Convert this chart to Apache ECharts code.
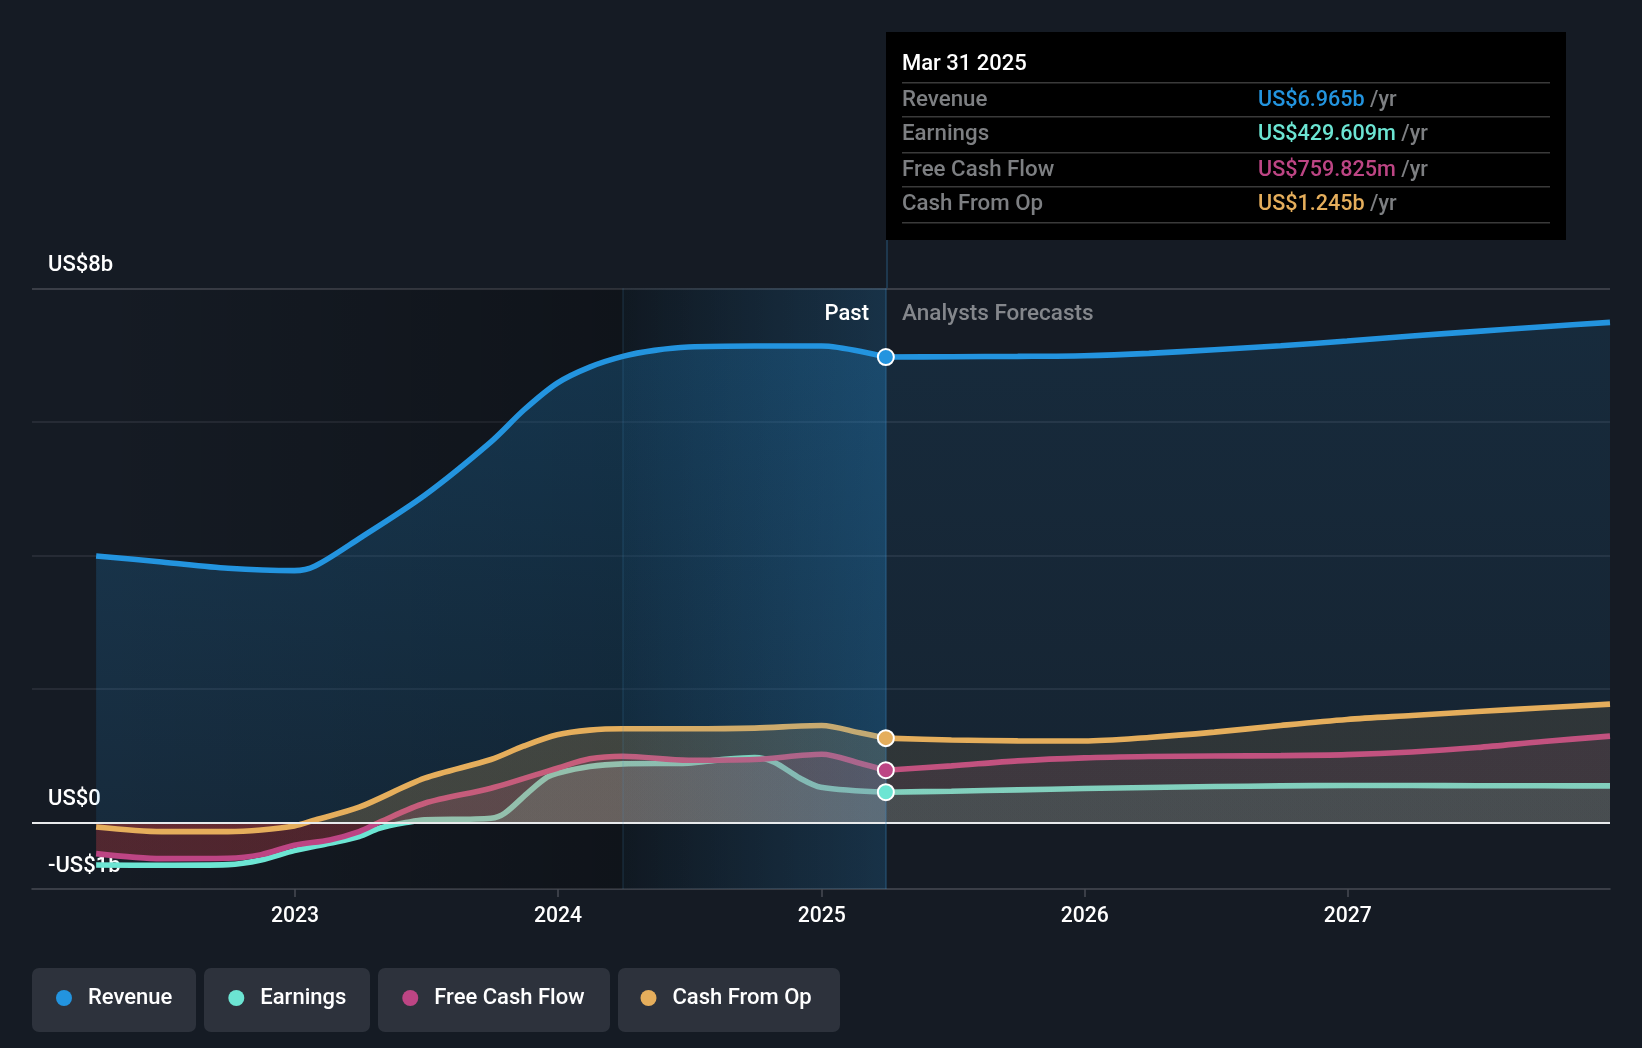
<!DOCTYPE html>
<html>
<head>
<meta charset="utf-8">
<title>Revenue and earnings</title>
<script src="https://cdn.jsdelivr.net/npm/echarts@6/dist/echarts.min.js"></script>
<style>
  html, body { margin: 0; padding: 0; background: #151b24; }
  #chart { width: 1642px; height: 1048px; }
</style>
</head>
<body>
<div id="chart"></div>
<script>
// values in US$ billions
const pastEnd = '2025-03-31';
const bandStart = '2024-03-31';

const revenueDates = ['2022-03-31', '2022-06-30', '2022-09-30', '2022-12-31', '2023-01-29', '2023-03-31', '2023-06-30', '2023-09-30', '2023-11-15', '2023-12-31', '2024-02-14', '2024-03-31', '2024-05-14', '2024-06-30', '2024-09-30', '2025-01-01', pastEnd];
const revenueValues = [3.99, 3.90, 3.805, 3.77, 3.84, 4.25, 4.90, 5.70, 6.18, 6.58, 6.82, 6.98, 7.07, 7.12, 7.135, 7.135, 6.97];

const earningsDates = ['2022-03-31', '2022-06-30', '2022-09-30', '2022-11-15', '2022-12-31', '2023-02-18', '2023-03-31', '2023-04-28', '2023-06-09', '2023-06-30', '2023-09-30', '2023-10-19', '2023-11-22', '2023-12-17', '2023-12-31', '2024-02-14', '2024-03-31', '2024-06-30', '2024-08-12', '2024-09-30', '2024-10-27', '2024-12-02', '2024-12-31', pastEnd];
const earningsValues = [-0.64, -0.645, -0.635, -0.565, -0.425, -0.315, -0.215, -0.09, 0.005, 0.035, 0.06, 0.135, 0.46, 0.675, 0.735, 0.835, 0.875, 0.885, 0.935, 0.97, 0.90, 0.66, 0.525, 0.45];

const fcfDates = ['2022-03-31', '2022-06-30', '2022-09-30', '2022-11-15', '2022-12-31', '2023-02-18', '2023-03-31', '2023-04-28', '2023-06-30', '2023-09-30', '2023-12-31', '2024-02-14', '2024-03-31', '2024-06-30', '2024-09-30', '2025-01-01', '2025-02-23', pastEnd];
const fcfValues = [-0.47, -0.545, -0.54, -0.485, -0.345, -0.265, -0.14, 0, 0.285, 0.51, 0.81, 0.95, 0.99, 0.93, 0.94, 1.02, 0.885, 0.78];

const cfoDates = ['2022-03-31', '2022-06-30', '2022-09-30', '2022-11-15', '2022-12-31', '2023-01-29', '2023-03-31', '2023-06-30', '2023-09-30', '2023-11-14', '2023-12-31', '2024-02-14', '2024-03-31', '2024-06-30', '2024-09-30', '2025-01-01', '2025-02-23', pastEnd];
const cfoValues = [-0.07, -0.14, -0.14, -0.115, -0.055, 0.035, 0.225, 0.66, 0.94, 1.14, 1.31, 1.38, 1.40, 1.40, 1.41, 1.45, 1.34, 1.26];

const forecastDates = [pastEnd, '2025-06-30', '2025-09-30', '2025-12-31', '2026-03-31', '2026-06-30', '2026-09-30', '2026-12-31', '2027-03-31', '2027-06-30', '2027-09-30', '2027-12-31'];
const revenueForecast = [6.97, 6.975, 6.98, 6.99, 7.025, 7.08, 7.14, 7.21, 7.285, 7.355, 7.425, 7.49];
const earningsForecast = [0.45, 0.465, 0.485, 0.505, 0.52, 0.535, 0.545, 0.55, 0.55, 0.548, 0.546, 0.545];
const fcfForecast = [0.78, 0.845, 0.92, 0.965, 0.985, 0.993, 0.998, 1.013, 1.053, 1.12, 1.21, 1.29];
const cfoForecast = [1.26, 1.233, 1.22, 1.218, 1.27, 1.35, 1.45, 1.54, 1.60, 1.66, 1.715, 1.77];

const yearTicks = [2023, 2024, 2025, 2026, 2027];
const gridValues = [-1, 0, 2, 4, 6, 8];
const labelledValues = [-1, 0, 8];

const legendNames = ['Revenue', 'Earnings', 'Free Cash Flow', 'Cash From Op'];
const tooltipDate = 'Mar 31 2025';
const tooltipValues = ['US$6.965b', 'US$429.609m', 'US$759.825m', 'US$1.245b'];

const colors = ['#2394df', '#6ce5d3', '#bd4584', '#e5ae5c'];
const FONT = 'Roboto';
const TEXT_FONT = '500 22.3px ' + FONT;
const VALUE_FONT = '500 21.6px ' + FONT;

function ms(d) {
  return new Date(d + 'T00:00:00Z').getTime();
}

function rgba(hex, a) {
  const n = parseInt(hex.slice(1), 16);
  return 'rgba(' + (n >> 16) + ',' + ((n >> 8) & 255) + ',' + (n & 255) + ',' + a + ')';
}

function pairs(dates, values) {
  return dates.map((d, i) => [ms(d), values[i]]);
}

// positive part of the fill in the series colour, the part below zero in its own red
function fillGradient(color, alpha, values, negColor) {
  const max = Math.max(...values);
  const min = Math.min(...values);
  const zero = min < 0 ? max / (max - min) : 1;
  return new echarts.graphic.LinearGradient(0, 0, 0, 1, [
    { offset: 0, color: rgba(color, alpha) },
    { offset: zero, color: rgba(color, alpha) },
    { offset: zero, color: negColor },
    { offset: 1, color: negColor },
  ]);
}

function lineSeries(name, color, dates, values, fill, z) {
  return {
    name,
    type: 'line',
    z,
    data: pairs(dates, values),
    smooth: 0.3,
    showSymbol: false,
    silent: true,
    itemStyle: { color },
    lineStyle: { color, width: 5.6, cap: 'butt' },
    areaStyle: { color: fill, opacity: 1 },
  };
}

function verticalFill(color, top, bottom) {
  return new echarts.graphic.LinearGradient(0, 0, 0, 1, [
    { offset: 0, color: rgba(color, top) },
    { offset: 1, color: rgba(color, bottom) },
  ]);
}

function horizontal(from, to) {
  return new echarts.graphic.LinearGradient(0, 0, 1, 0, [
    { offset: 0, color: from },
    { offset: 1, color: to },
  ]);
}

function endDot(name, color, value) {
  return {
    name: name + ' now',
    type: 'scatter',
    z: 6,
    silent: true,
    data: [[ms(pastEnd), value]],
    symbol: 'circle',
    symbolSize: 16,
    itemStyle: { color, borderColor: '#fff', borderWidth: 2, opacity: 1 },
  };
}

const series = [
  lineSeries('Revenue', colors[0], revenueDates, revenueValues, verticalFill(colors[0], 0.25, 0.13), 2),
  lineSeries('Revenue', colors[0], forecastDates, revenueForecast, verticalFill(colors[0], 0.13, 0.07), 2),
  lineSeries('Earnings', colors[1], earningsDates, earningsValues, fillGradient(colors[1], 0.2, earningsValues, 'rgba(108,229,211,0.03)'), 2.1),
  lineSeries('Earnings', colors[1], forecastDates, earningsForecast, fillGradient(colors[1], 0.14, earningsForecast, 'rgba(0,0,0,0)'), 2.1),
  lineSeries('Free Cash Flow', colors[2], fcfDates, fcfValues, fillGradient(colors[2], 0.2, fcfValues, 'rgba(190,50,60,0.34)'), 2.2),
  lineSeries('Free Cash Flow', colors[2], forecastDates, fcfForecast, fillGradient(colors[2], 0.1, fcfForecast, 'rgba(0,0,0,0)'), 2.2),
  lineSeries('Cash From Op', colors[3], cfoDates, cfoValues, fillGradient(colors[3], 0.22, cfoValues, 'rgba(228,80,70,0.15)'), 2.3),
  lineSeries('Cash From Op', colors[3], forecastDates, cfoForecast, fillGradient(colors[3], 0.12, cfoForecast, 'rgba(0,0,0,0)'), 2.3),
];

// dark panel under the lines
series[0].markArea = {
  silent: true,
  z: 1,
  data: [
    [{ xAxis: ms(revenueDates[0]), yAxis: 8, itemStyle: { color: horizontal('rgba(0,0,0,0)', 'rgba(0,0,0,0.28)') } },
      { xAxis: ms(bandStart), yAxis: -1 }],
    [{ xAxis: ms(bandStart), yAxis: 8, itemStyle: { color: horizontal('rgba(0,0,0,0.28)', 'rgba(0,0,0,0)') } },
      { xAxis: ms(pastEnd), yAxis: -1 }],
  ],
};

// blue band over the lines, zero line and band edges
series.push({
  name: 'band',
  type: 'line',
  z: 3,
  data: [],
  silent: true,
  markArea: {
    silent: true,
    z: 3,
    data: [
      [{ xAxis: ms(bandStart), yAxis: 8, itemStyle: { color: horizontal('rgba(35,148,223,0.04)', 'rgba(35,148,223,0.19)') } },
        { xAxis: ms(pastEnd), yAxis: -1 }],
    ],
  },
  markLine: {
    silent: true,
    z: 4,
    symbol: 'none',
    label: { show: false },
    animation: false,
    data: [
      { yAxis: 0, lineStyle: { color: '#e8eaec', width: 2, type: 'solid' } },
      { xAxis: ms(bandStart), lineStyle: { color: 'rgba(70,140,190,0.16)', width: 1.5, type: 'solid' } },
      { xAxis: ms(pastEnd), lineStyle: { color: 'rgba(60,140,200,0.35)', width: 1.5, type: 'solid' } },
    ],
  },
});

series.push(
  endDot('Revenue', colors[0], revenueForecast[0]),
  endDot('Earnings', colors[1], earningsForecast[0]),
  endDot('Free Cash Flow', colors[2], fcfForecast[0]),
  endDot('Cash From Op', colors[3], cfoForecast[0])
);

// legend chips
const chipBoxes = [[32, 164], [204, 166], [378, 232], [618, 222]];
const chips = chipBoxes.map((b) => ({
  type: 'rect',
  z: 0,
  silent: true,
  shape: { x: b[0], y: 968, width: b[1], height: 64, r: 7 },
  style: { fill: '#2d323c' },
}));

// tooltip style box
const box = [
  { type: 'rect', z: 20, silent: true, shape: { x: 886, y: 32, width: 680, height: 208 }, style: { fill: '#000' } },
  { type: 'line', z: 2, silent: true, shape: { x1: 887, y1: 240, x2: 887, y2: 288 }, style: { stroke: 'rgba(60,140,200,0.35)', lineWidth: 1.5 } },
  { type: 'text', z: 21, silent: true, x: 902, y: 64, style: { text: tooltipDate, fill: '#fff', font: '500 22px ' + FONT, verticalAlign: 'middle' } },
];
[82.7, 116.7, 152.7, 186.7, 222.7].forEach((y) => {
  box.push({ type: 'line', z: 21, silent: true, shape: { x1: 902, y1: y, x2: 1550, y2: y }, style: { stroke: '#3a3a3a', lineWidth: 1.5 } });
});
[100.7, 134.7, 170.3, 204.3].forEach((y, i) => {
  box.push({ type: 'text', z: 21, silent: true, x: 902, y, style: { text: legendNames[i], fill: '#7d7f82', font: TEXT_FONT, verticalAlign: 'middle' } });
  box.push({
    type: 'text', z: 21, silent: true, x: 1258, y,
    style: {
      text: '{v|' + tooltipValues[i] + '} {u|/yr}',
      verticalAlign: 'middle',
      font: VALUE_FONT,
      rich: {
        v: { fill: colors[i], font: VALUE_FONT },
        u: { fill: '#7d7f82', font: VALUE_FONT },
      },
    },
  });
});

const captions = [
  { type: 'text', z: 7, silent: true, x: 869, y: 314, style: { text: 'Past', fill: '#fff', font: '500 22px ' + FONT, align: 'right', verticalAlign: 'middle' } },
  { type: 'text', z: 7, silent: true, x: 902, y: 314, style: { text: 'Analysts Forecasts', fill: '#84878c', font: '500 22.5px ' + FONT, verticalAlign: 'middle' } },
];

const chart = echarts.init(document.getElementById('chart'));
chart.setOption({
  animation: false,
  backgroundColor: '#151b24',
  textStyle: { fontFamily: FONT },
  grid: { left: 32, right: 32, top: 288.3, bottom: 159 },
  legend: {
    data: legendNames,
    left: 51,
    top: 982,
    icon: 'circle',
    itemWidth: 16,
    itemHeight: 16,
    itemGap: 56,
    selectedMode: false,
    textStyle: { color: '#fff', fontSize: 22, fontWeight: 500, fontFamily: FONT, padding: [0, 0, 0, 11] },
  },
  xAxis: {
    type: 'value',
    min: ms('2022-01-01'),
    max: ms('2027-12-31'),
    axisLine: { onZero: false, lineStyle: { color: '#474b53', width: 1.5 } },
    axisTick: {
      length: 8,
      lineStyle: { color: '#474b53', width: 1.5 },
      customValues: yearTicks.map((y) => ms(y + '-01-01')),
    },
    axisLabel: {
      color: '#fff',
      fontSize: 21.2,
      fontWeight: 500,
      fontFamily: FONT,
      margin: 17,
      customValues: yearTicks.map((y) => ms(y + '-01-01')),
      formatter: (v) => String(new Date(v).getUTCFullYear()),
    },
    splitLine: { show: false },
  },
  yAxis: {
    type: 'value',
    min: -1,
    max: 8,
    axisLine: { show: false },
    axisTick: { show: false, customValues: gridValues },
    axisLabel: {
      inside: true,
      margin: 16,
      color: '#fff',
      fontSize: 22,
      fontWeight: 500,
      fontFamily: FONT,
      verticalAlign: 'bottom',
      padding: [0, 0, 12, 0],
      customValues: labelledValues,
      formatter: (v) => (v < 0 ? '-US$' + Math.abs(v) + 'b' : 'US$' + v + (v === 0 ? '' : 'b')),
    },
    splitLine: {
      lineStyle: {
        width: 1.5,
        color: ['rgba(0,0,0,0)', 'rgba(0,0,0,0)', '#2c323b', '#2c323b', '#2c323b', '#474b53'],
      },
    },
  },
  series,
  graphic: { elements: chips.concat(box, captions) },
});
</script>
</body>
</html>
